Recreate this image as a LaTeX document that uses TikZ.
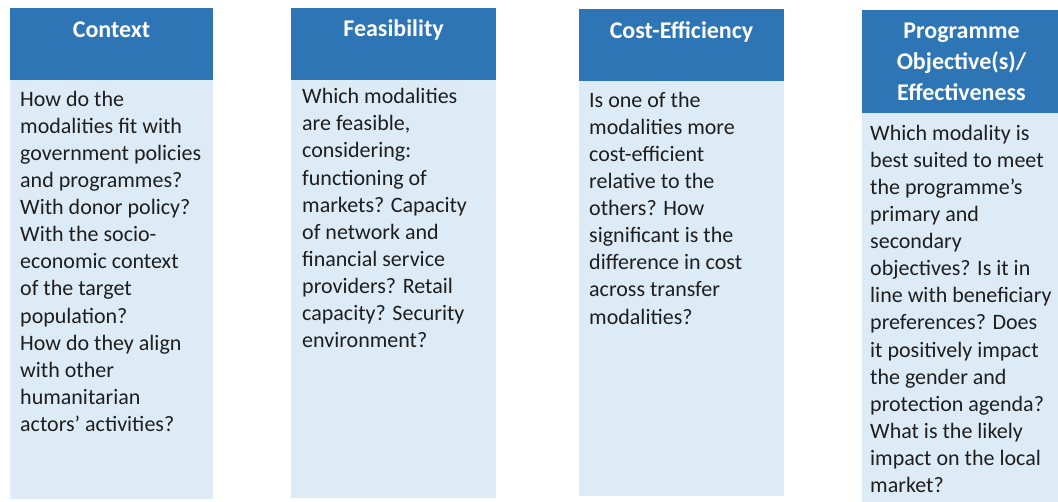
\documentclass[tikz,border=0pt]{standalone}
\usepackage{fontspec}
\setmainfont{Carlito}
\definecolor{hdr}{HTML}{2E75B6}
\definecolor{bdy}{HTML}{DDEBF7}
\definecolor{txt}{HTML}{1E1E1E}
\tikzset{
  hdrbox/.style={fill=hdr},
  bodybox/.style={fill=bdy},
  hdrtext/.style={font=\fontsize{24}{31}\selectfont\bfseries, text=white, align=center, inner sep=0pt},
  bodytext/.style={font=\fontsize{22}{27.1}\selectfont, text=txt, align=left, inner sep=0pt, anchor=north west},
}
\newcommand{\firstbodystrut}{\rule{0pt}{17pt}}
\newcommand{\firsthdrstrut}{\rule{0pt}{18pt}}
\begin{document}
\begin{tikzpicture}[x=1pt,y=-1pt]
\useasboundingbox (0,0) rectangle (1058,501);
\clip (0,0) rectangle (1058,501);
% column 1
\fill[hdrbox] (10,8) rectangle (213,80);
\fill[bodybox] (10,80) rectangle (213,499);
% column 2
\fill[hdrbox] (291,8) rectangle (496,80);
\fill[bodybox] (291,80) rectangle (496,498);
% column 3
\fill[hdrbox] (579,9) rectangle (784,81);
\fill[bodybox] (579,81) rectangle (784,496);
% column 4
\fill[hdrbox] (862,10) rectangle (1062,113);
\fill[bodybox] (862,113) rectangle (1062,505);

\node[hdrtext, anchor=base] (h1) at (111.5,37) {Context};
\node[hdrtext, anchor=base] (h2) at (393.5,36) {Feasibility};
\node[hdrtext, anchor=base] (h3) at (681.5,38) {Cost-Efficiency};
\node[hdrtext, anchor=north] (h4) at (961.5,20.5) {\firsthdrstrut Programme\\Objective(s)/\\Effectiveness};

\node[bodytext] (b1) at (20,89) {\firstbodystrut How do the\\modalities fit with\\government policies\\and programmes?\\With donor policy?\\With the socio-\\economic context\\of the target\\population?\\How do they align\\with other\\humanitarian\\actors’ activities?};
\node[bodytext] (b2) at (302,86.5) {\firstbodystrut Which modalities\\are feasible,\\considering:\\functioning of\\markets? Capacity\\of network and\\financial service\\providers? Retail\\capacity? Security\\environment?};
\node[bodytext] (b3) at (589,90) {\firstbodystrut Is one of the\\modalities more\\cost-efficient\\relative to the\\others? How\\significant is the\\difference in cost\\across transfer\\modalities?};
\node[bodytext] (b4) at (870,123) {\firstbodystrut Which modality is\\best suited to meet\\the programme’s\\primary and\\secondary\\objectives? Is it in\\line with beneficiary\\preferences? Does\\it positively impact\\the gender and\\protection agenda?\\What is the likely\\impact on the local\\market?};
\end{tikzpicture}
\end{document}
